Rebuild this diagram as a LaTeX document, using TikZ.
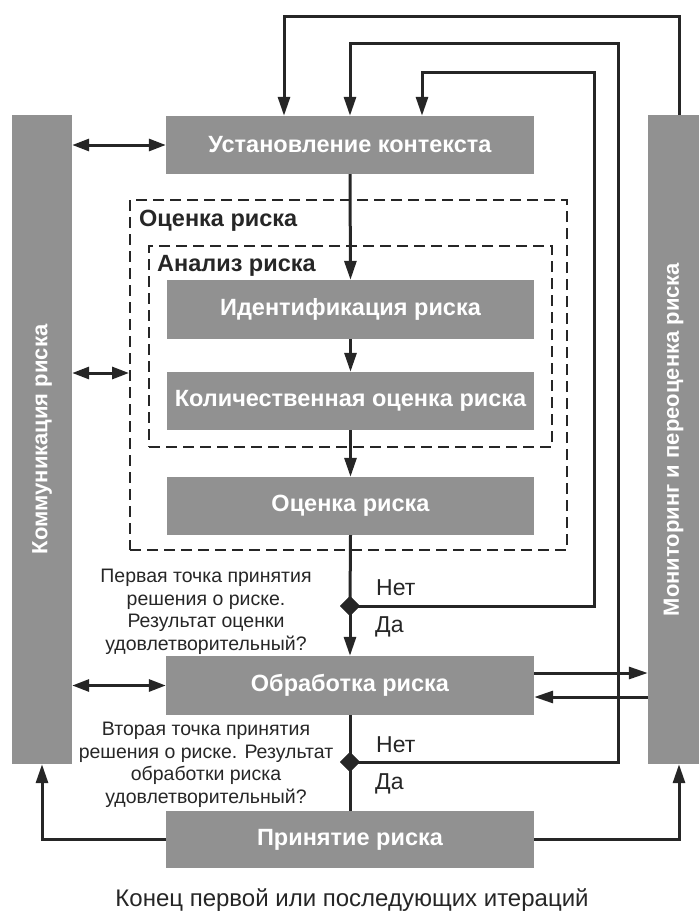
\documentclass[tikz,border=0pt]{standalone}
\usepackage{fontspec}
\setmainfont{Liberation Sans}
\usetikzlibrary{arrows.meta,shapes.geometric}
\definecolor{boxgray}{RGB}{145,145,145}
\definecolor{ink}{RGB}{38,38,38}
\begin{document}
\begin{tikzpicture}[x=1pt,y=-1pt,
  gbox/.style={fill=boxgray, inner sep=0pt, text=white,
    font=\fontsize{23.5}{26}\selectfont\bfseries,
    minimum width=368pt, minimum height=58pt},
  gbar/.style={fill=boxgray, inner sep=0pt, text=white, rotate=90,
    font=\fontsize{22}{24}\selectfont\bfseries},
  dbox/.style={draw=ink, line width=2pt, dash pattern=on 11pt off 6pt, inner sep=0pt},
  lbl/.style={text=ink, font=\fontsize{23.5}{26}\selectfont\bfseries, inner sep=0pt, anchor=west},
  qtext/.style={text=ink, font=\fontsize{19.5}{22.5}\selectfont, align=center, inner sep=0pt},
  yn/.style={text=ink, font=\fontsize{23}{26}\selectfont, inner sep=0pt, anchor=west},
  dot/.style={diamond, fill=ink, inner sep=0pt, minimum size=20pt},
  ln/.style={draw=ink, line width=3pt},
  arr/.style={ln, -{Triangle[length=19pt,width=12pt]}},
  dbl/.style={ln, {Triangle[length=17pt,width=12pt]}-{Triangle[length=17pt,width=12pt]}}
]
\useasboundingbox (0,0) rectangle (700,913);

% side bars
\node[gbar, minimum width=649pt, minimum height=60pt] (comm) at (42,439.5) {Коммуникация риска};
\node[gbar, minimum width=649pt, minimum height=51pt] (mon) at (673.5,439.5) {Мониторинг и переоценка риска};

% main boxes
\node[gbox] (ctx) at (350,145) {Установление контекста};
\node[dbox, minimum width=437pt, minimum height=350pt] (outer) at (348.5,375) {};
\node[dbox, minimum width=403pt, minimum height=201pt] (inner) at (350.5,346.5) {};
\node[lbl] (lo) at (139,221) {Оценка риска};
\node[lbl] (la) at (157,266) {Анализ риска};
\node[gbox, minimum width=367pt, minimum height=59pt] (ident) at (350.5,309.5) {Идентификация риска};
\node[gbox, minimum width=367pt] (quant) at (350.5,401) {Количественная оценка риска};
\node[gbox, minimum width=367pt] (eval) at (350.5,506) {Оценка риска};
\node[gbox, minimum height=59pt] (treat) at (350,685.5) {Обработка риска};
\node[gbox, minimum height=57pt] (accept) at (350,839.5) {Принятие риска};

% decision points
\node[dot] (d1) at (350,606) {};
\node[dot] (d2) at (350,762) {};
\node[yn] (n1) at (376,588) {Нет};
\node[yn] (y1) at (375,627) {Да};
\node[yn] (n2) at (376,745) {Нет};
\node[yn] (y2) at (375,784) {Да};
\node[qtext] (q1) at (206,612) {Первая точка принятия\\решения о риске.\\Результат оценки\\удовлетворительный?};
\node[qtext] (q2) at (206,765) {Вторая точка принятия\\решения о риске. Результат\\обработки риска\\удовлетворительный?};

\node[text=ink, font=\fontsize{24}{27}\selectfont, inner sep=0pt] (endt) at (352,900) {Конец первой или последующих итераций};

% helper coordinates
\coordinate (m1) at (679,16);
\coordinate (c1) at (284,16);
\coordinate (r2) at (618,43);
\coordinate (r3) at (594,72);
\coordinate (c3) at (422,72);
\coordinate (ya) at (0,373);
\coordinate (t1) at (0,673);
\coordinate (t2) at (0,697);

% main flow
\draw[arr] (ctx.south) -- (ident.north);
\draw[arr] (ident.south) -- (quant.north);
\draw[arr] (quant.south) -- (eval.north);
\draw[ln] (eval.south) -- (d1.center);
\draw[arr] (d1.center) -- (treat.north);
\draw[ln] (treat.south) -- (d2.center);
\draw[ln] (d2.center) -- (accept.north);

% feedback loops
\draw[arr] (m1 |- mon.east) -- (m1) -- (c1) -- (c1 |- ctx.north);
\draw[arr] (d2.center) -- (r2 |- d2) -- (r2) -- (ctx.north |- r2) -- (ctx.north);
\draw[arr] (d1.center) -- (r3 |- d1) -- (r3) -- (c3) -- (c3 |- ctx.north);

% communication
\draw[dbl] (comm.south |- ctx.west) -- (ctx.west);
\draw[dbl] (comm.south |- ya) -- (outer.west |- ya);
\draw[dbl] (comm.south |- treat.west) -- (treat.west);

% monitoring
\draw[arr] (treat.east |- t1) -- (mon.north |- t1);
\draw[arr] (mon.north |- t2) -- (treat.east |- t2);
\draw[arr] (accept.west) -- (comm.west |- accept.west) -- (comm.west);
\draw[arr] (accept.east) -- (m1 |- accept.east) -- (m1 |- mon.west);

\node[dot] at (d1) {};
\node[dot] at (d2) {};
\end{tikzpicture}
\end{document}
